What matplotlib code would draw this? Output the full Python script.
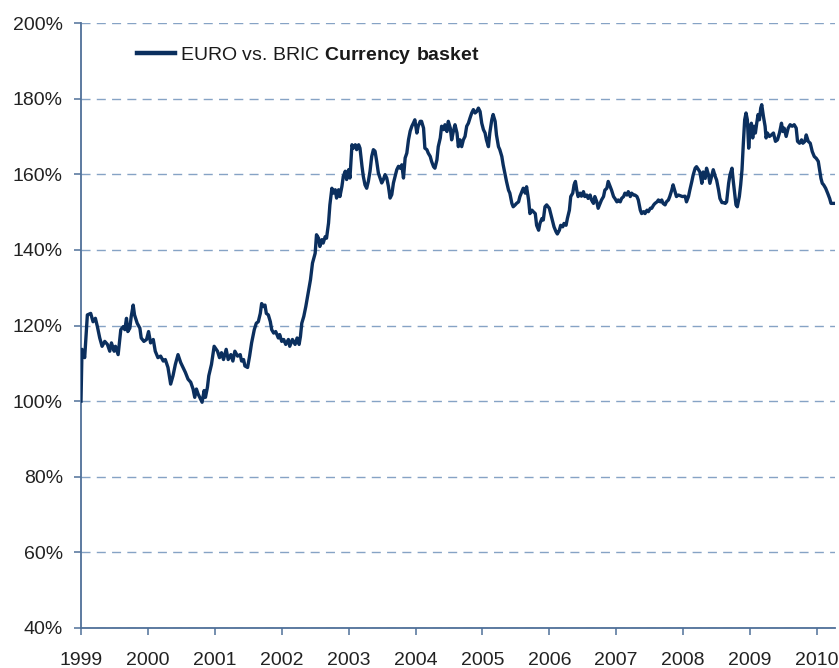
import matplotlib
matplotlib.use("Agg")
import matplotlib.pyplot as plt
from matplotlib.ticker import FuncFormatter

# EURO vs. BRIC currency basket (decimal year, % level)
dates = [
    1999.00, 1999.015, 1999.055, 1999.095, 1999.145, 1999.18, 1999.215, 1999.245, 1999.28, 1999.315,
    1999.355, 1999.395, 1999.43, 1999.455, 1999.495, 1999.515, 1999.555, 1999.595, 1999.63, 1999.655,
    1999.68, 1999.70, 1999.73, 1999.75, 1999.78, 1999.80, 1999.84, 1999.88, 1999.90, 1999.94,
    1999.98, 2000.01, 2000.04, 2000.08, 2000.11, 2000.15, 2000.19, 2000.23, 2000.26, 2000.30,
    2000.34, 2000.375, 2000.41, 2000.45, 2000.49, 2000.525, 2000.56, 2000.60, 2000.64, 2000.675,
    2000.70, 2000.725, 2000.75, 2000.775, 2000.81, 2000.84, 2000.86, 2000.89, 2000.91, 2000.95,
    2000.99, 2001.04, 2001.07, 2001.10, 2001.13, 2001.17, 2001.20, 2001.24, 2001.27, 2001.30,
    2001.34, 2001.38, 2001.40, 2001.43, 2001.45, 2001.49, 2001.52, 2001.55, 2001.59, 2001.62,
    2001.65, 2001.68, 2001.70, 2001.73, 2001.75, 2001.77, 2001.80, 2001.83, 2001.85, 2001.88,
    2001.91, 2001.95, 2001.97, 2002.00, 2002.03, 2002.06, 2002.10, 2002.12, 2002.16, 2002.20,
    2002.23, 2002.26, 2002.28, 2002.30, 2002.33, 2002.36, 2002.40, 2002.43, 2002.46, 2002.50,
    2002.52, 2002.55, 2002.57, 2002.60, 2002.62, 2002.65, 2002.67, 2002.70, 2002.72, 2002.75,
    2002.77, 2002.80, 2002.82, 2002.85, 2002.87, 2002.90, 2002.92, 2002.95, 2002.97, 2003.00,
    2003.02, 2003.05, 2003.07, 2003.10, 2003.12, 2003.15, 2003.17, 2003.20, 2003.22, 2003.245,
    2003.27, 2003.295, 2003.32, 2003.345, 2003.37, 2003.395, 2003.42, 2003.445, 2003.47, 2003.495,
    2003.52, 2003.545, 2003.57, 2003.595, 2003.62, 2003.645, 2003.67, 2003.695, 2003.72, 2003.745,
    2003.77, 2003.795, 2003.82, 2003.845, 2003.87, 2003.895, 2003.92, 2003.945, 2003.97, 2003.99,
    2004.02, 2004.04, 2004.07, 2004.09, 2004.12, 2004.14, 2004.17, 2004.19, 2004.22, 2004.24,
    2004.27, 2004.29, 2004.32, 2004.34, 2004.37, 2004.39, 2004.42, 2004.44, 2004.47, 2004.49,
    2004.52, 2004.54, 2004.565, 2004.59, 2004.62, 2004.64, 2004.665, 2004.69, 2004.715, 2004.74,
    2004.765, 2004.79, 2004.815, 2004.84, 2004.865, 2004.89, 2004.915, 2004.94, 2004.965, 2004.99,
    2005.015, 2005.04, 2005.06, 2005.09, 2005.11, 2005.14, 2005.16, 2005.19, 2005.21, 2005.24,
    2005.26, 2005.29, 2005.31, 2005.34, 2005.36, 2005.39, 2005.41, 2005.44, 2005.46, 2005.49,
    2005.51, 2005.54, 2005.56, 2005.59, 2005.61, 2005.64, 2005.66, 2005.69, 2005.71, 2005.74,
    2005.76, 2005.79, 2005.81, 2005.84, 2005.86, 2005.89, 2005.91, 2005.935, 2005.96, 2006.00,
    2006.02, 2006.05, 2006.07, 2006.10, 2006.12, 2006.15, 2006.17, 2006.20, 2006.22, 2006.25,
    2006.27, 2006.30, 2006.32, 2006.35, 2006.37, 2006.39, 2006.41, 2006.43, 2006.46, 2006.48,
    2006.51, 2006.53, 2006.56, 2006.58, 2006.61, 2006.63, 2006.66, 2006.68, 2006.71, 2006.73,
    2006.76, 2006.78, 2006.81, 2006.83, 2006.86, 2006.88, 2006.91, 2006.93, 2006.96, 2006.98,
    2007.01, 2007.03, 2007.06, 2007.08, 2007.11, 2007.13, 2007.16, 2007.18, 2007.21, 2007.23,
    2007.26, 2007.28, 2007.31, 2007.33, 2007.36, 2007.38, 2007.41, 2007.43, 2007.46, 2007.48,
    2007.51, 2007.53, 2007.56, 2007.58, 2007.61, 2007.63, 2007.66, 2007.68, 2007.70, 2007.73,
    2007.75, 2007.78, 2007.80, 2007.83, 2007.85, 2007.88, 2007.90, 2007.93, 2007.99, 2008.03,
    2008.05, 2008.08, 2008.10, 2008.13, 2008.15, 2008.18, 2008.20, 2008.23, 2008.25, 2008.28,
    2008.30, 2008.33, 2008.35, 2008.38, 2008.40, 2008.43, 2008.45, 2008.48, 2008.50, 2008.53,
    2008.55, 2008.58, 2008.60, 2008.63, 2008.65, 2008.68, 2008.70, 2008.73, 2008.75, 2008.77,
    2008.79, 2008.81, 2008.84, 2008.86, 2008.88, 2008.90, 2008.92, 2008.94, 2008.96, 2008.98,
    2009.00, 2009.02, 2009.04, 2009.06, 2009.08, 2009.10, 2009.12, 2009.14, 2009.16, 2009.175,
    2009.20, 2009.225, 2009.24, 2009.26, 2009.29, 2009.32, 2009.35, 2009.38, 2009.41, 2009.44,
    2009.47, 2009.49, 2009.51, 2009.54, 2009.57, 2009.60, 2009.63, 2009.66, 2009.69, 2009.71,
    2009.74, 2009.77, 2009.79, 2009.82, 2009.84, 2009.87, 2009.90, 2009.93, 2009.96, 2009.99,
    2010.02, 2010.04, 2010.06, 2010.08, 2010.10, 2010.13, 2010.16, 2010.19, 2010.21, 2010.25,
]
values = [
    100.0, 113.7, 111.5, 122.8, 123.2, 121.0, 121.9, 119.7, 116.7, 114.5,
    115.8, 115.0, 113.2, 115.4, 113.2, 114.5, 112.3, 118.9, 119.7, 118.9,
    121.9, 118.4, 119.3, 122.3, 125.4, 122.8, 120.6, 119.3, 116.7, 115.8,
    116.3, 118.4, 115.4, 116.3, 113.2, 111.5, 111.9, 110.6, 111.0, 108.9,
    104.5, 106.7, 109.7, 112.3, 110.2, 108.9, 107.6, 105.8, 105.0, 103.2,
    101.0, 103.2, 101.9, 101.0, 99.7, 102.8, 101.0, 103.7, 106.7, 109.7,
    114.5, 113.2, 111.5, 112.8, 111.0, 113.7, 111.0, 112.3, 110.6, 113.2,
    111.9, 112.3, 110.6, 111.0, 109.3, 108.9, 111.9, 115.4, 118.9, 120.6,
    121.0, 123.2, 125.8, 125.0, 125.4, 123.2, 122.8, 121.0, 118.9, 118.0,
    118.4, 116.7, 117.6, 115.8, 116.3, 115.0, 116.3, 114.5, 116.3, 115.0,
    116.7, 115.0, 117.1, 120.6, 122.4, 125.0, 129.0, 132.1, 136.5, 139.1,
    144.0, 143.1, 140.9, 142.7, 141.8, 143.5, 143.1, 147.1, 151.9, 156.3,
    155.0, 155.9, 153.7, 155.9, 154.1, 156.8, 159.4, 160.8, 158.6, 161.2,
    159.0, 167.8, 166.9, 167.8, 166.5, 167.8, 166.9, 162.1, 159.4, 157.2,
    156.3, 158.1, 160.8, 164.7, 166.5, 166.1, 163.4, 160.3, 159.0, 157.7,
    158.6, 159.9, 159.0, 156.8, 153.7, 154.6, 157.7, 159.4, 161.2, 162.1,
    161.6, 162.5, 159.0, 164.3, 165.6, 169.1, 171.4, 172.7, 173.6, 174.4,
    170.9, 172.7, 174.0, 174.0, 172.2, 166.9, 166.5, 165.6, 164.7, 163.4,
    162.0, 161.6, 163.8, 167.3, 169.6, 172.7, 171.8, 173.1, 171.3, 174.0,
    172.2, 169.1, 171.3, 173.1, 170.9, 167.3, 169.1, 167.3, 169.1, 170.0,
    172.7, 173.5, 174.9, 176.2, 177.1, 176.2, 176.6, 177.5, 176.6, 173.5,
    171.8, 170.9, 169.1, 167.3, 170.9, 174.4, 175.8, 174.0, 170.4, 167.3,
    166.5, 164.7, 162.5, 159.8, 158.1, 155.8, 155.0, 152.3, 151.4, 151.9,
    152.3, 152.7, 154.1, 155.4, 156.3, 155.0, 156.7, 153.2, 149.6, 150.5,
    150.1, 149.6, 146.5, 145.2, 147.0, 148.3, 147.9, 151.4, 151.9, 151.0,
    149.6, 147.4, 146.1, 144.8, 144.2, 145.2, 146.5, 146.1, 147.0, 146.5,
    148.3, 150.5, 154.1, 155.0, 157.2, 158.1, 155.8, 154.1, 155.0, 154.2,
    155.4, 154.1, 154.5, 153.6, 154.5, 153.2, 152.3, 154.1, 152.7, 151.0,
    152.3, 153.2, 154.1, 155.8, 156.3, 158.1, 156.7, 155.8, 154.1, 153.6,
    152.7, 153.2, 152.7, 153.6, 154.1, 155.0, 154.5, 155.4, 154.1, 155.0,
    154.5, 154.5, 154.1, 153.2, 150.5, 149.6, 150.1, 149.6, 150.5, 150.1,
    151.0, 151.0, 151.9, 152.3, 152.7, 153.2, 152.7, 153.2, 152.3, 151.9,
    152.7, 153.2, 154.1, 155.8, 157.2, 155.4, 154.1, 154.5, 154.1, 154.2,
    152.7, 154.1, 155.8, 158.1, 159.8, 161.6, 162.0, 161.2, 160.6, 157.6,
    160.6, 158.9, 161.6, 159.8, 157.6, 159.8, 161.2, 159.4, 158.5, 155.8,
    153.6, 152.5, 152.5, 152.3, 152.7, 157.6, 159.8, 161.6, 158.1, 155.0,
    151.9, 151.4, 154.1, 157.2, 161.2, 168.2, 174.4, 176.2, 174.4, 166.9,
    171.8, 173.5, 169.6, 172.7, 170.9, 173.5, 175.8, 174.4, 177.5, 178.4,
    175.3, 172.7, 169.6, 170.9, 170.0, 170.4, 170.9, 168.7, 169.1, 170.9,
    173.5, 171.3, 172.2, 170.0, 172.2, 173.1, 172.7, 173.1, 172.2, 168.7,
    168.2, 169.1, 168.2, 168.7, 170.4, 168.7, 168.2, 166.0, 164.7, 164.2,
    163.4, 161.2, 158.9, 157.6, 157.2, 156.3, 155.0, 153.6, 152.3, 152.3,
]

years = list(range(1999, 2011))
y_ticks = list(range(40, 201, 20))
series_label = r"EURO vs. BRIC $\mathbf{Currency\ basket}$"

plt.rcParams['font.family'] = ['Liberation Sans', 'DejaVu Sans']
plt.rcParams['mathtext.fontset'] = 'custom'
plt.rcParams['mathtext.rm'] = 'Liberation Sans'
plt.rcParams['mathtext.bf'] = 'Liberation Sans:bold'

line_color = '#0b2f5e'
axis_color = '#4f7099'
grid_color = '#86a3c5'
text_color = '#222222'

fig = plt.figure(figsize=(8.39, 6.68), dpi=100)
ax = fig.add_axes([81 / 839, 1 - 628 / 668, 754 / 839, 605 / 668])

ax.plot(dates, values, color=line_color, lw=2.4, label=series_label,
        solid_joinstyle='round', zorder=3)

ax.set_xlim(1999, 2010.27)
ax.set_ylim(40, 200)
ax.set_xticks(years)
ax.set_yticks(y_ticks)
ax.yaxis.set_major_formatter(FuncFormatter(lambda v, p: f"{int(v)}%"))

ax.grid(axis='y', color=grid_color, lw=1.0, linestyle=(0, (6.5, 4.5)), zorder=1)
ax.set_axisbelow(True)

for side in ['top', 'right']:
    ax.spines[side].set_visible(False)
for side in ['left', 'bottom']:
    ax.spines[side].set_color(axis_color)
    ax.spines[side].set_linewidth(1.3)

ax.tick_params(axis='both', colors=axis_color, length=5, width=1.1,
               labelsize=14, labelcolor=text_color)
ax.tick_params(axis='y', pad=8)
ax.tick_params(axis='x', pad=12)

leg = ax.legend(loc='center left', bbox_to_anchor=(0.074, 0.947), frameon=False,
                borderpad=0, borderaxespad=0, handlelength=1.95, handletextpad=0.25,
                fontsize=14)
for h in leg.get_lines():
    h.set_linewidth(3.2)
for t in leg.get_texts():
    t.set_color('#1a1a1a')

fig.savefig('out.png', dpi=100)
